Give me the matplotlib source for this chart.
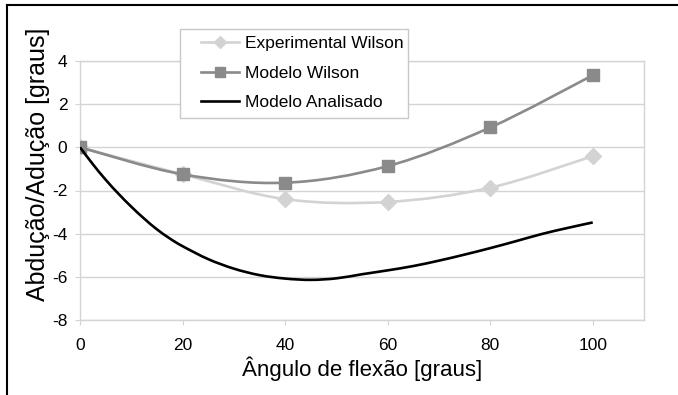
import matplotlib
matplotlib.use("Agg")
import matplotlib.pyplot as plt
from matplotlib.path import Path
from matplotlib.patches import PathPatch, Rectangle
from matplotlib.lines import Line2D

# data
angulo = [0, 20, 40, 60, 80, 100]
experimental_wilson = [0, -1.25, -2.4, -2.53, -1.87, -0.41]
modelo_wilson = [0, -1.25, -1.64, -0.87, 0.92, 3.34]

angulo_analisado = [0, 2.5, 5, 7.5, 10, 12.5, 15, 17.5, 20, 25, 30, 35, 40, 45,
                    50, 55, 60, 65, 70, 75, 80, 85, 90, 95, 100]
modelo_analisado = [0, -0.78, -1.5, -2.15, -2.75, -3.3, -3.8, -4.22, -4.58, -5.18,
                    -5.62, -5.92, -6.08, -6.14, -6.07, -5.88, -5.7, -5.5, -5.25,
                    -4.97, -4.67, -4.35, -4.02, -3.74, -3.48]

x_ticks = [0, 20, 40, 60, 80, 100]
y_ticks = [-8, -6, -4, -2, 0, 2, 4]
labels = ["Experimental Wilson", "Modelo Wilson", "Modelo Analisado"]

plt.rcParams["font.family"] = ["Liberation Sans", "DejaVu Sans"]

LIGHT = "#d3d3d3"
MID = "#8a8a8a"
GRID = "#d4d4d4"
W, H = 678, 395


def smooth_path(xs, ys):
    # excel-like smoothed line: bezier segments with catmull-rom control points
    pts = list(zip(xs, ys))
    verts = [pts[0]]
    codes = [Path.MOVETO]
    n = len(pts)
    for i in range(n - 1):
        p0 = pts[i - 1] if i > 0 else pts[i]
        p1 = pts[i]
        p2 = pts[i + 1]
        p3 = pts[i + 2] if i + 2 < n else pts[i + 1]
        c1 = (p1[0] + (p2[0] - p0[0]) / 6, p1[1] + (p2[1] - p0[1]) / 6)
        c2 = (p2[0] - (p3[0] - p1[0]) / 6, p2[1] - (p3[1] - p1[1]) / 6)
        verts += [c1, c2, p2]
        codes += [Path.CURVE4] * 3
    return Path(verts, codes)


fig = plt.figure(figsize=(W / 100, H / 100), dpi=100)
ax = fig.add_axes([80 / W, 1 - 320 / H, 564 / W, 259 / H])

ax.add_patch(PathPatch(smooth_path(angulo, experimental_wilson), fill=False,
                       edgecolor=LIGHT, lw=1.9, zorder=3))
ax.plot(angulo, experimental_wilson, ls="none", marker="D", ms=8, color=LIGHT, zorder=3)

ax.add_patch(PathPatch(smooth_path(angulo, modelo_wilson), fill=False,
                       edgecolor=MID, lw=1.9, zorder=4))
ax.plot(angulo, modelo_wilson, ls="none", marker="s", ms=8.6, color=MID, zorder=4)

ax.add_patch(PathPatch(smooth_path(angulo_analisado, modelo_analisado), fill=False,
                       edgecolor="black", lw=1.9, zorder=5))

ax.set_xlim(0, 110)
ax.set_ylim(-8, 4)
ax.set_xticks(x_ticks)
ax.set_yticks(y_ticks)
ax.set_yticklabels([str(v) for v in y_ticks])
ax.grid(axis="y", color=GRID, lw=1)
ax.set_axisbelow(True)
for s in ax.spines.values():
    s.set_color(GRID)
    s.set_linewidth(1)
ax.tick_params(axis="x", direction="out", length=3.6, color=GRID, pad=9.5, labelsize=12.5)
ax.tick_params(axis="y", direction="out", length=3.6, color=GRID, pad=5.5, labelsize=12.5)

ax.set_xlabel("Ângulo de flexão [graus]", fontsize=16)
ax.xaxis.set_label_coords(0.5, -0.14)
ax.set_ylabel("Abdução/Adução [graus]", fontsize=18)
ax.yaxis.set_label_coords(-0.054, 0.6)

# legend: frame drawn separately so its padding matches the reference
fig.add_artist(Rectangle((180 / W, 1 - 118 / H), 228 / W, 89 / H, transform=fig.transFigure,
                         facecolor="white", edgecolor="#c8c8c8", lw=1, zorder=9))
handles = [
    Line2D([], [], color=LIGHT, lw=1.9, marker="D", ms=6),
    Line2D([], [], color=MID, lw=1.9, marker="s", ms=6.5),
    Line2D([], [], color="black", lw=1.9),
]
leg = fig.legend(handles, labels, loc="upper left", bbox_to_anchor=(201 / W, 1 - 36 / H),
                 bbox_transform=fig.transFigure, borderaxespad=0, borderpad=0,
                 fontsize=12.5, frameon=False, handlelength=2.2, handletextpad=0.35,
                 labelspacing=0.83)
leg.set_zorder(10)

# outer border, only top and left edges visible in the reference
fig.add_artist(Line2D([7 / W, 1], [1 - 5 / H, 1 - 5 / H], color="black",
                      lw=1.5, transform=fig.transFigure))
fig.add_artist(Line2D([7 / W, 7 / W], [0, 1 - 5 / H], color="black",
                      lw=1.5, transform=fig.transFigure))

fig.savefig("out.png", dpi=100)
